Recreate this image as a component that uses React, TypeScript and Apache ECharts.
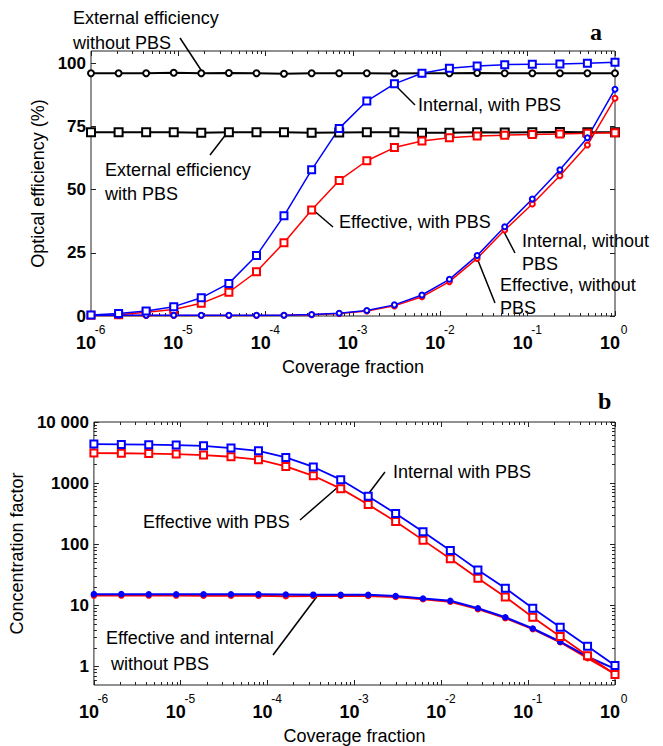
import React, { useEffect, useRef } from "react";
import * as echarts from "echarts";

// Coverage fraction of each computed point (log-spaced, 20 points)
const coverage = [
  1e-6, 2.07e-6, 4.28e-6, 8.86e-6, 1.83e-5, 3.79e-5, 7.85e-5, 1.62e-4, 3.36e-4, 6.95e-4,
  1.44e-3, 2.98e-3, 6.16e-3, 1.27e-2, 2.64e-2, 5.46e-2, 0.113, 0.234, 0.483, 1,
];

// Panel a: optical efficiency (%)
const extNoPBS = [96, 96, 96, 96.2, 96, 96.1, 96, 95.8, 96, 96, 96, 95.9, 96, 96, 96.1, 96, 96, 96, 96, 96];
const extPBS = [72.7, 72.7, 72.7, 72.7, 72.5, 72.7, 72.7, 72.7, 72.5, 72.6, 72.7, 72.7, 72.5, 72.5, 72.7, 72.6, 72.7, 72.8, 72.7, 72.7];
const intPBS = [0.4, 1.0, 2.0, 3.7, 7.2, 12.9, 23.9, 39.6, 57.8, 74.2, 85.0, 91.8, 96.0, 98.0, 98.9, 99.4, 99.6, 99.7, 100.0, 100.4];
const effPBS = [0.3, 0.5, 1.5, 2.6, 5.0, 9.4, 17.5, 29.0, 41.9, 53.6, 61.4, 66.6, 69.2, 70.5, 71.2, 71.5, 71.8, 72.0, 72.3, 72.5];
const intNoPBS = [0.3, 0.3, 0.3, 0.3, 0.3, 0.3, 0.3, 0.3, 0.6, 1.1, 2.2, 4.4, 8.3, 14.5, 23.9, 35.3, 46.3, 57.8, 70.5, 89.7];
const effNoPBS = [0.2, 0.2, 0.2, 0.2, 0.2, 0.2, 0.2, 0.3, 0.5, 1.0, 2.0, 4.0, 7.6, 13.6, 22.8, 34.0, 44.3, 55.5, 67.6, 86.1];

// Panel b: concentration factor
const cIntPBS = [4350, 4300, 4250, 4190, 4080, 3740, 3380, 2630, 1840, 1140, 610, 318, 160, 79.5, 38, 19.1, 9.0, 4.4, 2.15, 1.04];
const cEffPBS = [3100, 3080, 3040, 2990, 2880, 2700, 2420, 1880, 1320, 813, 446, 236, 117, 58, 27.9, 13.8, 6.4, 3.1, 1.51, 0.74];
const cIntNoPBS = [15.3, 15.3, 15.2, 15.2, 15.2, 15.2, 15.2, 15.1, 15.0, 14.9, 14.9, 14.3, 13.0, 11.9, 9.0, 6.4, 4.2, 2.55, 1.45, 0.92];
const cEffNoPBS = [14.5, 14.5, 14.5, 14.5, 14.4, 14.4, 14.4, 14.2, 14.3, 14.4, 14.3, 13.8, 12.6, 11.5, 8.7, 6.2, 4.1, 2.5, 1.37, 0.76];

// Ticks
const xExponents = [-6, -5, -4, -3, -2, -1, 0];
const xMinorMultipliers = [2, 3, 4, 5, 6, 7, 8, 9];
const effTicks = [0, 25, 50, 75, 100];
const concDecades = [0, 1, 2, 3, 4];
const concDecadeLabels = ["1", "10", "100", "1000", "10 000"];
const concMinorValues = [
  0.6, 0.7, 0.8, 0.9,
  2, 3, 4, 5, 6, 7, 8, 9,
  20, 30, 40, 50, 60, 70, 80, 90,
  200, 300, 400, 500, 600, 700, 800, 900,
  2000, 3000, 4000, 5000, 6000, 7000, 8000, 9000,
];

const FONT = '"Liberation Sans", Arial, Helvetica, sans-serif';
const BLUE = "#0000ff";
const RED = "#ff0000";
const FRAME = "#222";

export default function App() {
  const ref = useRef<HTMLDivElement>(null);

  useEffect(() => {
    if (!ref.current) return;
    const chart = echarts.init(ref.current, undefined, { renderer: "svg" });

    const lx = coverage.map((c) => Math.log10(c));
    const pts = (vals: number[]) => vals.map((v, i) => [lx[i], v]);
    const logPts = (vals: number[]) => vals.map((v, i) => [lx[i], Math.log10(v)]);

    const xMinor: number[] = [];
    for (let e = -6; e < 0; e++) for (const m of xMinorMultipliers) xMinor.push(Math.log10(m * Math.pow(10, e)));
    const yMinor = concMinorValues.map((v) => Math.log10(v));

    const tickStyle = { color: FRAME, width: 1 };
    const noLine = { show: false, onZero: false };
    const MAJ = 5;
    const MIN = 3;

    const makeXAxes = (g: number) => {
      const base = {
        type: "value",
        gridIndex: g,
        min: -6,
        max: 0,
        axisLine: noLine,
        splitLine: { show: false },
        axisLabel: { show: false },
      };
      return [
        {
          ...base,
          position: "bottom",
          name: "Coverage fraction",
          nameLocation: "middle",
          nameGap: 42,
          nameTextStyle: { fontSize: 18, fontFamily: FONT, color: "#000" },
          axisTick: { show: true, inside: true, length: MAJ, customValues: xExponents, lineStyle: tickStyle },
          axisLabel: {
            show: true,
            customValues: xExponents,
            margin: 9,
            formatter: (v: number) => `{s|${Math.round(v)}}\n{b|10}`,
            rich: {
              b: { fontSize: 18, fontWeight: "bold", fontFamily: FONT, color: "#000", padding: [0, 10, 0, 0], lineHeight: 15 },
              s: { fontSize: 12, fontFamily: FONT, color: "#000", lineHeight: 10, padding: [0, 0, 0, 18] },
            },
          },
        },
        { ...base, position: "top", axisTick: { show: true, inside: true, length: MAJ, customValues: xExponents, lineStyle: tickStyle } },
        { ...base, position: "bottom", axisTick: { show: true, inside: true, length: MIN, customValues: xMinor, lineStyle: tickStyle } },
        { ...base, position: "top", axisTick: { show: true, inside: true, length: MIN, customValues: xMinor, lineStyle: tickStyle } },
      ];
    };

    const yBase = { type: "value", axisLine: noLine, splitLine: { show: false }, axisLabel: { show: false } };
    const yNameStyle = { fontSize: 18, fontFamily: FONT, color: "#000" };
    const yLabelStyle = { fontSize: 17, fontWeight: "bold", fontFamily: FONT, color: "#000" };

    const yAxes = [
      {
        ...yBase, gridIndex: 0, min: 0, max: 104.8, position: "left",
        name: "Optical efficiency (%)", nameLocation: "middle", nameRotate: 90, nameGap: 35, nameTextStyle: yNameStyle,
        axisTick: { show: true, inside: true, length: MAJ, customValues: effTicks, lineStyle: tickStyle },
        axisLabel: { show: true, customValues: effTicks, margin: 5, ...yLabelStyle },
      },
      {
        ...yBase, gridIndex: 0, min: 0, max: 104.8, position: "right",
        axisTick: { show: true, inside: true, length: MAJ, customValues: effTicks, lineStyle: tickStyle },
      },
      {
        ...yBase, gridIndex: 1, min: -0.301, max: 4, position: "left",
        name: "Concentration factor", nameLocation: "middle", nameRotate: 90, nameGap: 63, nameTextStyle: yNameStyle,
        axisTick: { show: true, inside: true, length: MAJ, customValues: concDecades, lineStyle: tickStyle },
        axisLabel: {
          show: true, customValues: concDecades, margin: 5, ...yLabelStyle,
          formatter: (v: number) => concDecadeLabels[Math.round(v)] ?? "",
        },
      },
      {
        ...yBase, gridIndex: 1, min: -0.301, max: 4, position: "right",
        axisTick: { show: true, inside: true, length: MAJ, customValues: concDecades, lineStyle: tickStyle },
      },
      {
        ...yBase, gridIndex: 1, min: -0.301, max: 4, position: "left",
        axisTick: { show: true, inside: true, length: MIN, customValues: yMinor, lineStyle: tickStyle },
      },
      {
        ...yBase, gridIndex: 1, min: -0.301, max: 4, position: "right",
        axisTick: { show: true, inside: true, length: MIN, customValues: yMinor, lineStyle: tickStyle },
      },
    ];

    const line = (
      name: string, data: number[][], color: string, symbol: string, size: number,
      xi: number, yi: number, width: number
    ) => ({
      name, type: "line", data, xAxisIndex: xi, yAxisIndex: yi,
      symbol, symbolSize: size, showSymbol: true,
      lineStyle: { color, width },
      itemStyle: { color, borderColor: color, borderWidth: 1.5 },
      emphasis: { disabled: true },
      silent: true,
    });

    const series = [
      line("External efficiency without PBS", pts(extNoPBS), "#000", "emptyCircle", 6, 0, 0, 2),
      line("External efficiency with PBS", pts(extPBS), "#000", "emptyRect", 8, 0, 0, 2),
      line("Effective, with PBS", pts(effPBS), RED, "emptyRect", 7, 0, 0, 1.5),
      line("Effective, without PBS", pts(effNoPBS), RED, "emptyCircle", 5, 0, 0, 1.5),
      line("Internal, without PBS", pts(intNoPBS), BLUE, "emptyCircle", 5, 0, 0, 1.5),
      line("Internal, with PBS", pts(intPBS), BLUE, "emptyRect", 7, 0, 0, 1.5),
      line("Effective without PBS", logPts(cEffNoPBS), RED, "circle", 5, 4, 2, 2),
      line("Internal without PBS", logPts(cIntNoPBS), BLUE, "circle", 5, 4, 2, 2),
      line("Effective with PBS", logPts(cEffPBS), RED, "emptyRect", 7, 4, 2, 1.8),
      line("Internal with PBS", logPts(cIntPBS), BLUE, "emptyRect", 7, 4, 2, 1.8),
    ];

    const txt = (text: string, x: number, y: number) => ({
      type: "text", x, y, silent: true,
      style: { text, fontSize: 18, fontFamily: FONT, fill: "#000", align: "left", verticalAlign: "middle" },
    });
    const seg = (x1: number, y1: number, x2: number, y2: number) => ({
      type: "line", silent: true, shape: { x1, y1, x2, y2 }, style: { stroke: "#000", lineWidth: 1.5 },
    });
    const letter = (text: string, x: number, y: number) => ({
      type: "text", x, y, silent: true,
      style: { text, fontSize: 24, fontWeight: "bold", fontFamily: '"Liberation Serif", "Times New Roman", serif', fill: "#000", align: "left", verticalAlign: "middle" },
    });

    const graphic = [
      letter("a", 590, 32),
      letter("b", 598, 401),
      txt("External efficiency", 73, 18),
      txt("without PBS", 73, 43),
      seg(180, 38, 201, 70),
      txt("External efficiency", 105, 170),
      txt("with PBS", 105, 194),
      seg(210, 155, 227, 133),
      txt("Effective, with PBS", 339, 222),
      seg(312, 209, 333, 227),
      txt("Internal, with PBS", 418, 105),
      seg(395, 85, 415, 105),
      txt("Internal, without", 522, 241),
      txt("PBS", 522, 264),
      seg(503, 230, 515, 253),
      txt("Effective, without", 500, 285),
      txt("PBS", 500, 308),
      seg(477, 258, 495, 303),
      txt("Effective with PBS", 143, 522),
      seg(300, 520, 338, 487),
      txt("Internal with PBS", 393, 472),
      seg(366, 497, 385, 472),
      txt("Effective and internal", 106, 638),
      txt("without PBS", 111, 664),
      seg(273, 655, 318, 595),
    ];

    chart.setOption({
      animation: false,
      backgroundColor: "#ffffff",
      grid: [
        { left: 91, top: 51, width: 524, height: 265, show: true, borderColor: FRAME, borderWidth: 1, backgroundColor: "transparent" },
        { left: 91, top: 422, width: 524, height: 264, show: true, borderColor: FRAME, borderWidth: 1, backgroundColor: "transparent" },
      ],
      xAxis: [...makeXAxes(0), ...makeXAxes(1)],
      yAxis: yAxes,
      series,
      graphic,
    });

    return () => chart.dispose();
  }, []);

  return (
    <div
      ref={ref}
      style={{ position: "absolute", left: 0, top: 0, width: 663, height: 746, background: "#fff" }}
    />
  );
}
